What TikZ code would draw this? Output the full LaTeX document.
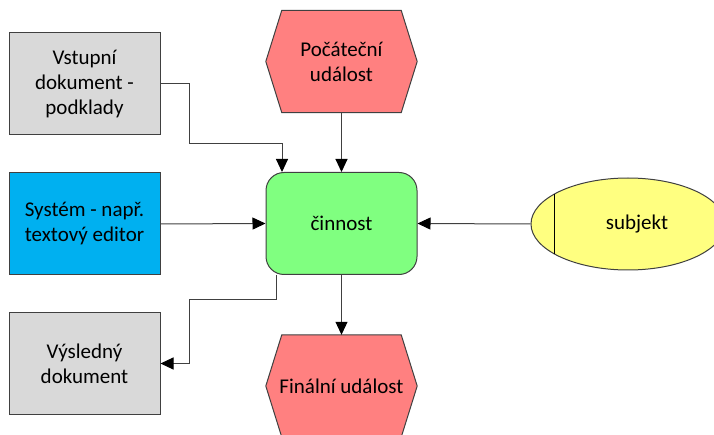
\documentclass[tikz,border=0pt]{standalone}
\usepackage{fontspec}
\setmainfont{Carlito}
\usetikzlibrary{shapes.geometric,arrows.meta}
\definecolor{docgray}{HTML}{D9D9D9}
\definecolor{sysblue}{HTML}{00B0F0}
\definecolor{actgreen}{HTML}{80FF80}
\definecolor{evtred}{HTML}{FF8080}
\definecolor{subjyellow}{HTML}{FFFF80}
\definecolor{edgec}{HTML}{404040}
\begin{document}
\begin{tikzpicture}[x=1pt,y=-1pt,
  txt/.style={font=\fontsize{21}{25}\selectfont, align=center, text=black},
  boxnode/.style={txt, draw=edgec, line width=1pt, minimum width=151pt, minimum height=102pt, inner sep=0pt},
  evtnode/.style={txt, minimum width=151pt, minimum height=102pt, inner sep=0pt},
  evtshape/.style={fill=evtred, draw=edgec, line width=1pt},
  conn/.style={draw=edgec, line width=1pt, -{Triangle[length=13pt,width=12pt,fill=black,color=black]}}
]
\useasboundingbox (0,0) rectangle (714,435);

% nodes
\node[boxnode, fill=docgray] (vstup) at (84.5,84) {Vstupní\\dokument -\\podklady};
\node[boxnode, fill=sysblue] (system) at (84.5,224) {Systém - např.\\textový editor};
\node[boxnode, fill=docgray] (vysl) at (84.5,363.5) {Výsledný\\dokument};
\node[boxnode, fill=actgreen, rounded corners=18pt] (cinn) at (341.5,223.5) {činnost};

\node[evtnode] (poc) at (341.5,61.5) {};
\path[evtshape] (poc.west) -- ([xshift=16pt]poc.north west) -- ([xshift=-16pt]poc.north east)
  -- (poc.east) -- ([xshift=-16pt]poc.south east) -- ([xshift=16pt]poc.south west) -- cycle;
\node[txt] at (poc) {Počáteční\\událost};

\node[evtnode] (fin) at (341.5,386) {};
\path[evtshape] (fin.west) -- ([xshift=16pt]fin.north west) -- ([xshift=-16pt]fin.north east)
  -- (fin.east) -- ([xshift=-16pt]fin.south east) -- ([xshift=16pt]fin.south west) -- cycle;
\node[txt] at (fin) {Finální událost};

\node[ellipse, draw=edgec, line width=1pt, fill=subjyellow, minimum width=194pt, minimum height=92pt, inner sep=0pt] (subj) at (628,224) {};
\node[txt] at (637,224) {subjekt};
\coordinate (chordT) at (554,194);
\coordinate (chordB) at (554,254);
\draw[black, line width=1pt] (chordT) -- (chordB);

% connectors
\coordinate (v1) at (189,84);
\coordinate (v2) at (189,144);
\coordinate (v3) at (282,144);
\draw[conn] (vstup.east |- v1) -- (v1) -- (v2) -- (v3) -- (v3 |- cinn.north);
\draw[conn] (poc.south) -- (cinn.north);
\draw[conn] (system.east) -- (cinn.west);
\draw[conn] (subj.west) -- (cinn.east);
\draw[conn] (cinn.south) -- (fin.north);
\coordinate (w1) at (276,300);
\coordinate (w2) at (189,300);
\coordinate (w3) at (189,363.5);
\draw[conn] (w1 |- cinn.south) -- (w1) -- (w2) -- (w3) -- (vysl.east);
\end{tikzpicture}
\end{document}
